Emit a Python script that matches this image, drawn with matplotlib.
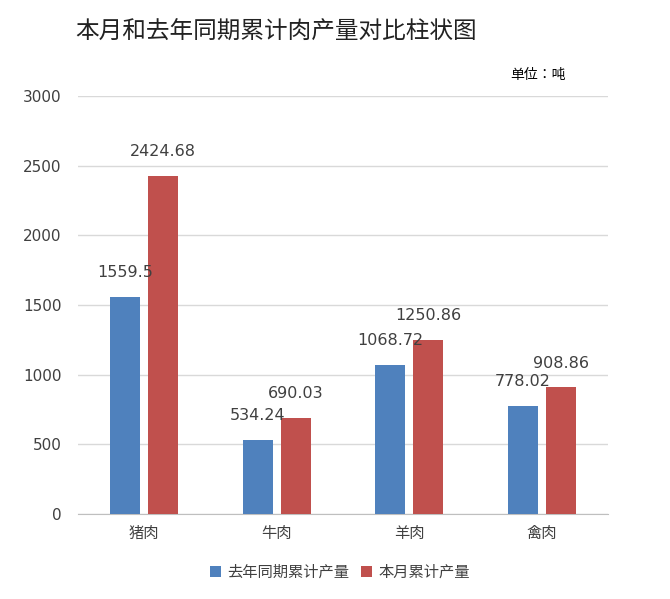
import numpy as np
import matplotlib.pyplot as plt
from matplotlib import font_manager as fm

cjk = [f.name for f in fm.fontManager.ttflist if 'CJK' in f.name]
cjk_name = 'Noto Sans CJK SC' if 'Noto Sans CJK SC' in cjk else (cjk[0] if cjk else 'DejaVu Sans')
plt.rcParams['font.family'] = ['DejaVu Sans', cjk_name]

categories = ['猪肉', '牛肉', '羊肉', '禽肉']
last_year = [1559.5, 534.24, 1068.72, 778.02]
this_month = [2424.68, 690.03, 1250.86, 908.86]
series_names = ['去年同期累计产量', '本月累计产量']

BLUE = '#4F81BD'
RED = '#C0504D'

fig = plt.figure(figsize=(6.7, 5.99), dpi=100)
ax = fig.add_axes([78 / 670, 1 - 514 / 599, 530 / 670, 418 / 599])

x = np.arange(len(categories))
w = 0.226
off = 0.144
b1 = ax.bar(x - off, last_year, w, color=BLUE, zorder=3)
b2 = ax.bar(x + off, this_month, w, color=RED, zorder=3)

for bars, vals in ((b1, last_year), (b2, this_month)):
    for b, v in zip(bars, vals):
        ax.annotate(f'{v:g}', (b.get_x() + b.get_width() / 2, v), xytext=(0, 12),
                    textcoords='offset points', ha='center', va='bottom',
                    fontsize=11.5, color='#404040')

ax.set_xlim(-0.5, 3.5)
ax.set_ylim(0, 3000)
ax.set_yticks(range(0, 3001, 500))
ax.set_xticks(x)
ax.set_xticklabels(categories, fontsize=11, color='#404040', fontfamily=cjk_name)
ax.tick_params(axis='y', labelsize=11, colors='#404040', length=0, pad=12)
ax.tick_params(axis='x', length=0, pad=8)
ax.grid(axis='y', color='#D9D9D9', linewidth=1, zorder=0)
for s in ['top', 'right', 'left']:
    ax.spines[s].set_visible(False)
ax.spines['bottom'].set_color('#BFBFBF')

fig.text(75 / 670, 1 - 32 / 599, '本月和去年同期累计肉产量对比柱状图', fontsize=17,
         va='center', ha='left', color='#222222', fontfamily=cjk_name)
fig.text(510 / 670, 1 - 75 / 599, '单位：吨', fontsize=10, va='center', ha='left',
         fontfamily=cjk_name)

fig.legend([b1, b2], series_names, loc='center', bbox_to_anchor=(340 / 670, 1 - 572 / 599),
           ncol=2, frameon=False, fontsize=11, handlelength=0.7, handleheight=0.7,
           columnspacing=0.8, handletextpad=0.4, labelcolor='#404040',
           prop={'family': cjk_name, 'size': 11})

fig.savefig('out.png', dpi=100)
